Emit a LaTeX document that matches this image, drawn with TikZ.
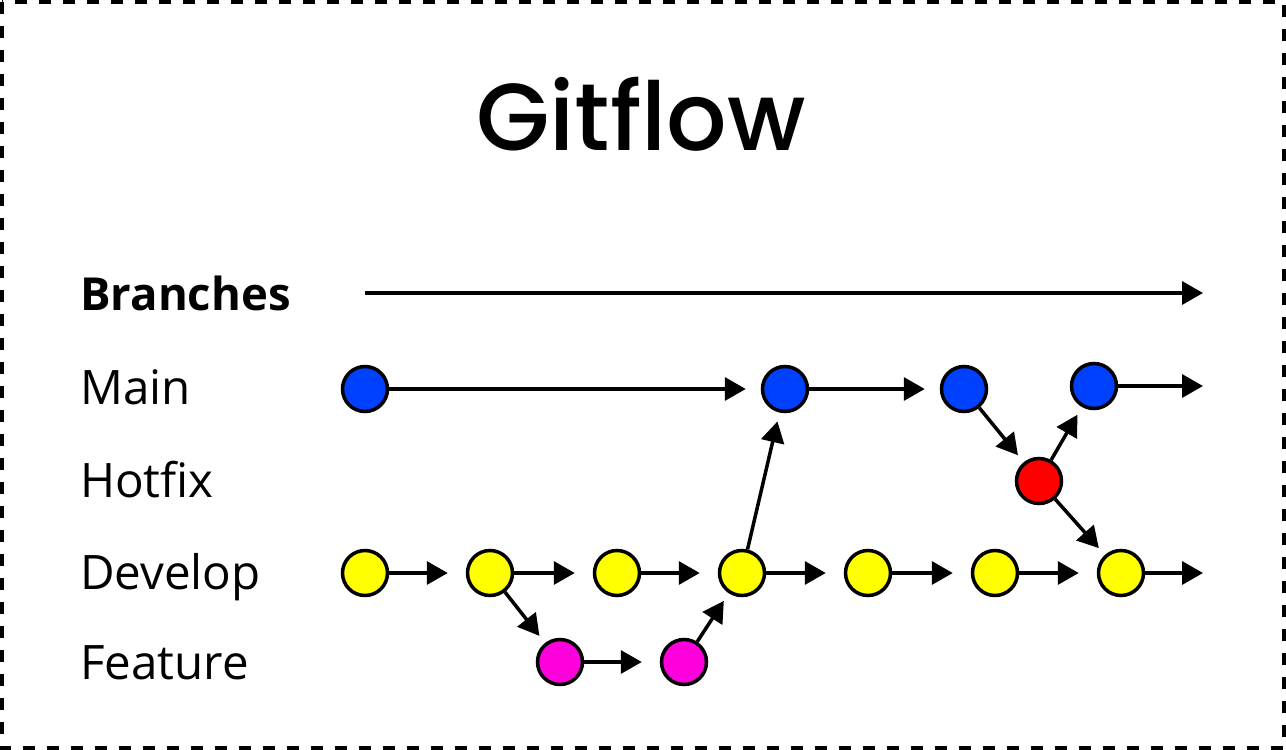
\documentclass[tikz,border=0pt]{standalone}
\usepackage{fontspec}
\setmainfont{Open Sans}
\newfontfamily\titlefont{Poppins Medium}
\usetikzlibrary{arrows.meta}
\definecolor{cmain}{RGB}{0,64,255}
\definecolor{chot}{RGB}{255,0,0}
\definecolor{cdev}{RGB}{255,255,0}
\definecolor{cfeat}{RGB}{255,0,220}
\begin{document}
\begin{tikzpicture}[x=1pt,y=-1pt,
  commit/.style={circle,draw=black,line width=3.5pt,minimum size=45pt,inner sep=0pt},
  link/.style={line width=3.5pt,-{Triangle[length=21pt,width=23pt]}},
  hlink/.style={link,shorten >=18pt},
  dlink/.style={link,shorten >=9pt},
  lbl/.style={anchor=base west,inner sep=0pt,font=\fontsize{47.5}{52}\selectfont}]
\useasboundingbox (0,0) rectangle (1286,750);
\draw[line width=3.5pt,dash pattern=on 12pt off 12pt] (1.8,1.8) rectangle (1284.2,748.2);
\node[anchor=base,inner sep=0pt,font=\titlefont\fontsize{95}{100}\selectfont] (title) at (641,150) {Gitflow};
\node[lbl,font=\bfseries\fontsize{45.5}{52}\selectfont] (lb) at (80,310) {Branches};
\node[lbl] (lm) at (80,404) {Main};
\node[lbl] (lh) at (80,497) {Hotfix};
\node[lbl] (ld) at (80,589) {Develop};
\node[lbl] (lf) at (80,679) {Feature};
% main
\node[commit,fill=cmain] (m1) at (365,389) {};
\node[commit,fill=cmain] (m2) at (785,389) {};
\node[commit,fill=cmain] (m3) at (964,389) {};
\node[commit,fill=cmain] (m4) at (1094,386) {};
% hotfix
\node[commit,fill=chot] (h1) at (1039,481) {};
% develop
\node[commit,fill=cdev] (d1) at (365,573) {};
\node[commit,fill=cdev] (d2) at (490,573) {};
\node[commit,fill=cdev] (d3) at (617,573) {};
\node[commit,fill=cdev] (d4) at (742,573) {};
\node[commit,fill=cdev] (d5) at (868,573) {};
\node[commit,fill=cdev] (d6) at (995,573) {};
\node[commit,fill=cdev] (d7) at (1121,573) {};
% feature
\node[commit,fill=cfeat] (f1) at (560,662) {};
\node[commit,fill=cfeat] (f2) at (684,662) {};
% free ends
\coordinate (bs) at (365,293);
\coordinate (be) at (1203,293);
\coordinate (me) at (1203,386);
\coordinate (de) at (1203,573);
\draw[link] (bs) -- (be);
\draw[link,shorten >=15pt] (m1) -- (m2);
\draw[link,shorten >=15pt] (m2) -- (m3);
\draw[link] (m4) -- (me);
\draw[dlink] (m3) -- (h1);
\draw[dlink] (h1) -- (m4);
\draw[dlink] (h1) -- (d7);
\draw[hlink] (d1) -- (d2);
\draw[hlink] (d2) -- (d3);
\draw[hlink] (d3) -- (d4);
\draw[hlink] (d4) -- (d5);
\draw[hlink] (d5) -- (d6);
\draw[hlink] (d6) -- (d7);
\draw[link] (d7) -- (de);
\draw[dlink] (d2) -- (f1);
\draw[hlink] (f1) -- (f2);
\draw[dlink] (f2) -- (d4);
\draw[dlink] (d4) -- (m2);
\end{tikzpicture}
\end{document}
